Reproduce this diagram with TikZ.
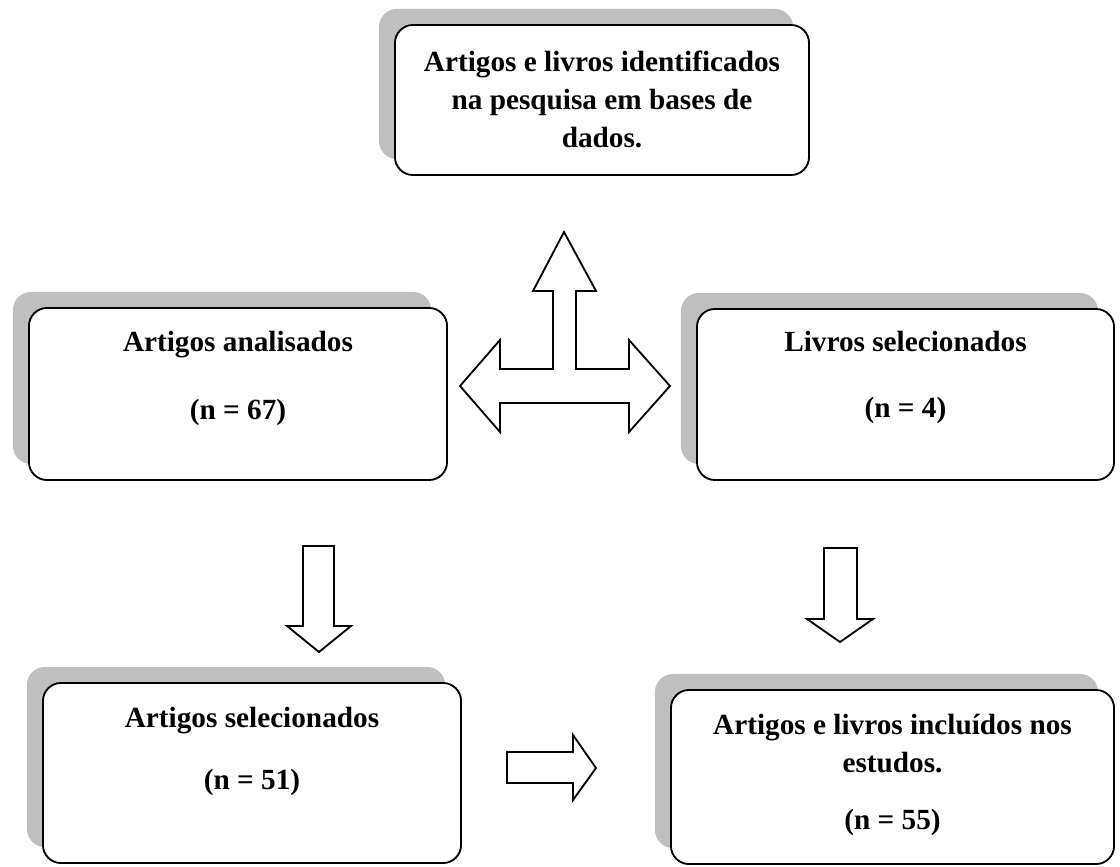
\documentclass[tikz,border=0pt]{standalone}
\usepackage{fontspec}
\setmainfont{Liberation Serif}
\usetikzlibrary{positioning}
\usetikzlibrary{shadows}

\begin{document}
\begin{tikzpicture}[x=0.025cm,y=-0.025cm]

      \tikzset{box/.style = {shape=rectangle,draw,fill=white,line width=1.3pt,rounded corners=0.45cm,
          minimum width=10.45cm,minimum height=4.3cm,
          drop shadow={shadow xshift=-0.4cm,shadow yshift=0.4cm,fill=black!25,opacity=1}}}
      \tikzset{boxtext/.style = {align=center,inner sep=0pt,font=\bfseries\fontsize{20.8}{26.9}\selectfont}}
      \tikzset{blockarrow/.style = {draw,fill=white,line width=1.3pt,line join=miter}}
      \useasboundingbox (0,0) rectangle (1120,867);
      % boxes
      \node[box,minimum width=10.35cm,minimum height=3.75cm] (ident) at (602,100) {};
      \node[box] (analis) at (238,394) {};
      \node[box,minimum width=10.425cm,minimum height=4.275cm] (livros) at (905.5,394.5) {};
      \node[box,minimum height=4.5cm] (selec) at (252,773) {};
      \node[box,minimum width=11.075cm,minimum height=4.35cm] (incl) at (892.5,777) {};
      % texts
      \node[boxtext,below=0.675cm of ident.north] (identtxt) {Artigos e livros identificados\\na pesquisa em bases de\\dados.};
      \node[boxtext,below=0.6cm of analis.north] (analistxt) {Artigos analisados\\[0.75cm](n = 67)};
      \node[boxtext,below=0.575cm of livros.north] (livrostxt) {Livros selecionados\\[0.7cm](n = 4)};
      \node[boxtext,below=0.625cm of selec.north] (selectxt) {Artigos selecionados\\[0.6cm](n = 51)};
      \node[boxtext,below=0.625cm of incl.north] (incltxt) {Artigos e livros incluídos nos\\estudos.\\[0.475cm](n = 55)};
      %arrows
      \draw[blockarrow] (564,232) -- (596,291) -- (576,291) -- (576,369) -- (629,369) -- (629,340)
        -- (670,386) -- (629,432) -- (629,403) -- (500,403) -- (500,432) -- (460,386) -- (500,340)
        -- (500,369) -- (553,369) -- (553,291) -- (533,291) -- cycle;
      \draw[blockarrow] (303,546) -- (334,546) -- (334,626) -- (351,626) -- (319,652) -- (287,626) -- (303,626) -- cycle;
      \draw[blockarrow] (824,548) -- (857,548) -- (857,619) -- (873,619) -- (840,642) -- (807,619) -- (824,619) -- cycle;
      \draw[blockarrow] (507,752) -- (573,752) -- (573,735) -- (596,768) -- (573,800) -- (573,783) -- (507,783) -- cycle;
\end{tikzpicture}
\end{document}
